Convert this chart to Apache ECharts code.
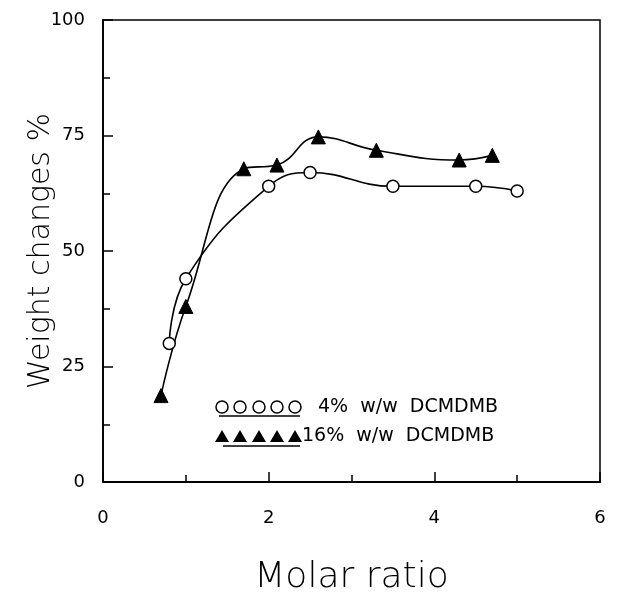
<!DOCTYPE html>
<html>
<head>
<meta charset="utf-8">
<script src="https://cdn.jsdelivr.net/npm/echarts@6/dist/echarts.min.js"></script>
<style>html,body{margin:0;padding:0;background:#fff;}#c{width:639px;height:596px;}</style>
</head>
<body>
<div id="c"></div>
<script>
// Data
var x4 = [0.8, 1.0, 2.0, 2.5, 3.5, 4.5, 5.0];
var y4 = [30, 44, 64, 67, 64, 64, 63];
var x16 = [0.7, 1.0, 1.7, 2.1, 2.6, 3.3, 4.3, 4.7];
var y16 = [18.7, 38, 67.8, 68.6, 74.7, 71.8, 69.7, 70.7];
var xTicks = [0, 2, 4, 6];
var yTicks = [0, 25, 50, 75, 100];
var legendNames = ['4%  w/w  DCMDMB', '16%  w/w  DCMDMB'];

function pairs(xs, ys) { return xs.map(function (v, i) { return [v, ys[i]]; }); }

var font = 'DejaVu Sans';
var chart = echarts.init(document.getElementById('c'), null, { renderer: 'canvas' });
var L = 103, T = 20, R = 600, B = 482;
var option = {
  backgroundColor: '#fff',
  animation: false,
  grid: { left: L, top: T, width: R - L, height: B - T, show: true, borderColor: '#000', borderWidth: 1.5, backgroundColor: 'transparent', containLabel: false, outerBoundsMode: 'none' },
  xAxis: {
    type: 'value', min: xTicks[0], max: xTicks[xTicks.length - 1], interval: 2,
    name: 'Molar ratio', nameLocation: 'middle', nameGap: 96, nameMoveOverlap: false,
    nameTextStyle: { fontFamily: font, fontSize: 36, fontWeight: 200, color: '#000', verticalAlign: 'middle' },
    axisLine: { lineStyle: { color: '#000', width: 1.8 } },
    axisTick: { inside: true, length: 10, lineStyle: { color: '#000', width: 1.5 } },
    minorTick: { show: true, splitNumber: 2, length: 7, lineStyle: { color: '#000', width: 1.5 } },
    splitLine: { show: false },
    axisLabel: { fontFamily: font, fontSize: 18, color: '#000', margin: 27 }
  },
  yAxis: {
    type: 'value', min: yTicks[0], max: yTicks[yTicks.length - 1], interval: 25,
    name: 'Weight changes %', nameLocation: 'middle', nameGap: 62, nameMoveOverlap: false,
    nameTextStyle: { fontFamily: font, fontSize: 30, fontWeight: 200, color: '#000', verticalAlign: 'middle' },
    axisLine: { lineStyle: { color: '#000', width: 1.8 } },
    axisTick: { inside: true, length: 10, lineStyle: { color: '#000', width: 1.5 } },
    minorTick: { show: true, splitNumber: 2, length: 7, lineStyle: { color: '#000', width: 1.5 } },
    splitLine: { show: false },
    axisLabel: { fontFamily: font, fontSize: 18, color: '#000', margin: 18 }
  },
  series: [
    {
      name: legendNames[0], type: 'line', data: pairs(x4, y4), smooth: 0.45,
      symbol: 'circle', symbolSize: 12,
      itemStyle: { color: '#fff', borderColor: '#000', borderWidth: 1.5 },
      lineStyle: { color: '#000', width: 1.6 }, z: 3
    },
    {
      name: legendNames[1], type: 'line', data: pairs(x16, y16), smooth: 0.45,
      symbol: 'triangle', symbolSize: 14,
      itemStyle: { color: '#000', borderColor: '#000', borderWidth: 1 },
      lineStyle: { color: '#000', width: 1.6 }, z: 3
    }
  ],
  graphic: []
};

// legend (custom, 5 markers with underline)
var g = [];
var mx = [222, 240, 259, 277, 295];
mx.forEach(function (x) {
  g.push({ type: 'circle', shape: { cx: x, cy: 407, r: 6 }, style: { fill: '#fff', stroke: '#000', lineWidth: 1.5 } });
  g.push({ type: 'polygon', shape: { points: [[x - 7, 442], [x + 7, 442], [x, 430]] }, style: { fill: '#000' } });
});
g.push({ type: 'line', shape: { x1: 219, y1: 416, x2: 300, y2: 416 }, style: { stroke: '#000', lineWidth: 1.5 } });
g.push({ type: 'line', shape: { x1: 223, y1: 446, x2: 300, y2: 446 }, style: { stroke: '#000', lineWidth: 1.5 } });
g.push({ type: 'text', x: 318, y: 407, style: { text: legendNames[0], font: '19px ' + font, fill: '#000', align: 'left', verticalAlign: 'middle' } });
g.push({ type: 'text', x: 302, y: 436, style: { text: legendNames[1], font: '19px ' + font, fill: '#000', align: 'left', verticalAlign: 'middle' } });
option.graphic = g;
chart.setOption(option);
</script>
</body>
</html>
